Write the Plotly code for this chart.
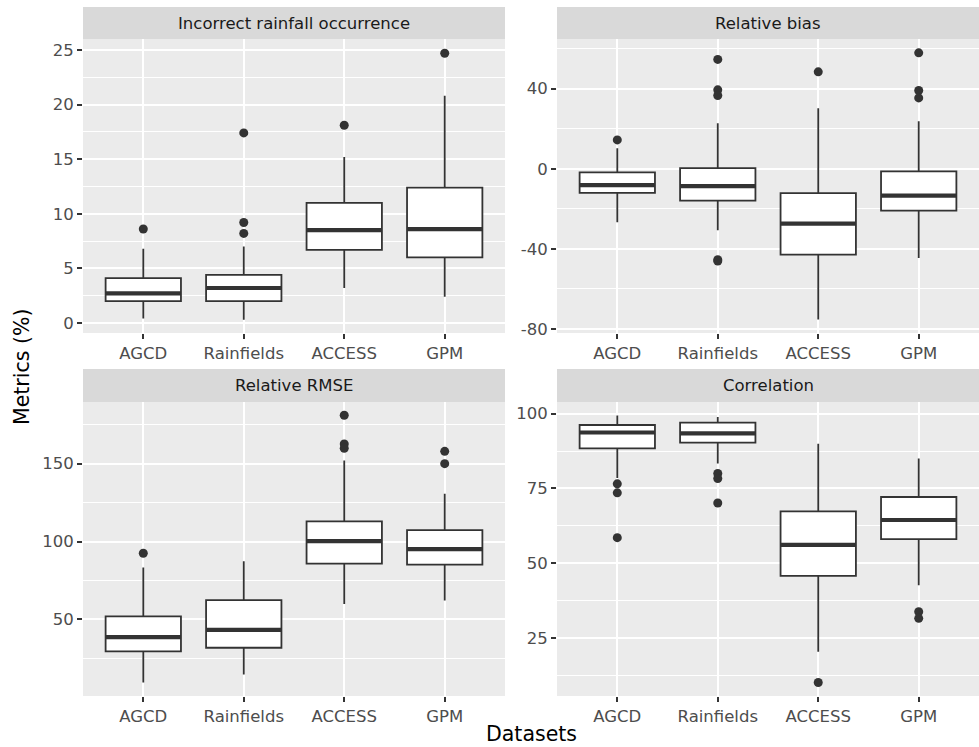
import plotly.graph_objects as go

datasets = ["AGCD", "Rainfields", "ACCESS", "GPM"]

# Incorrect rainfall occurrence
occ_low = [0.4, 0.3, 3.2, 2.4]
occ_q1 = [2.0, 2.0, 6.7, 6.0]
occ_med = [2.7, 3.2, 8.5, 8.6]
occ_q3 = [4.1, 4.4, 11.0, 12.4]
occ_high = [6.8, 7.0, 15.2, 20.8]
occ_out_ds = ["AGCD", "Rainfields", "Rainfields", "Rainfields", "ACCESS", "GPM"]
occ_out_val = [8.6, 17.4, 9.2, 8.2, 18.1, 24.7]

# Relative bias
bias_low = [-26.7, -30.7, -75.3, -44.6]
bias_q1 = [-12.0, -15.9, -42.9, -20.9]
bias_med = [-8.2, -8.7, -27.4, -13.4]
bias_q3 = [-1.8, 0.3, -12.2, -1.3]
bias_high = [10.2, 22.7, 30.2, 23.7]
bias_out_ds = ["AGCD", "Rainfields", "Rainfields", "Rainfields", "Rainfields", "Rainfields",
               "ACCESS", "GPM", "GPM", "GPM"]
bias_out_val = [14.4, 54.6, 39.4, 36.6, -45.4, -46.1, 48.4, 57.9, 39.1, 35.4]

# Relative RMSE
rmse_low = [9.4, 14.6, 59.9, 62.2]
rmse_q1 = [29.4, 31.8, 85.8, 85.2]
rmse_med = [38.6, 43.3, 100.2, 95.1]
rmse_q3 = [51.9, 62.4, 112.9, 107.3]
rmse_high = [83.3, 87.3, 152.1, 130.7]
rmse_out_ds = ["AGCD", "ACCESS", "ACCESS", "ACCESS", "GPM", "GPM"]
rmse_out_val = [92.5, 181.1, 162.7, 159.9, 157.9, 150.0]

# Correlation
corr_low = [78.5, 83.3, 20.3, 42.6]
corr_q1 = [88.4, 90.3, 45.7, 58.0]
corr_med = [93.7, 93.4, 56.1, 64.4]
corr_q3 = [96.2, 97.0, 67.3, 72.1]
corr_high = [99.4, 98.9, 89.9, 85.0]
corr_out_ds = ["AGCD", "AGCD", "AGCD", "Rainfields", "Rainfields", "Rainfields", "ACCESS", "GPM", "GPM"]
corr_out_val = [76.5, 73.5, 58.5, 80.0, 78.3, 70.1, 10.0, 33.7, 31.5]

panel_titles = ["Incorrect rainfall occurrence", "Relative bias", "Relative RMSE", "Correlation"]
major_ticks = [[0, 5, 10, 15, 20, 25], [-80, -40, 0, 40], [50, 100, 150], [25, 50, 75, 100]]
minor_ticks = [[2.5, 7.5, 12.5, 17.5, 22.5], [-60, -20, 20, 60], [25, 75, 125, 175], [12.5, 37.5, 62.5, 87.5]]
y_ranges = [[-0.92, 26.0], [-82.0, 64.8], [0.8, 189.6], [5.5, 103.9]]

panels = [
    (occ_low, occ_q1, occ_med, occ_q3, occ_high, occ_out_ds, occ_out_val),
    (bias_low, bias_q1, bias_med, bias_q3, bias_high, bias_out_ds, bias_out_val),
    (rmse_low, rmse_q1, rmse_med, rmse_q3, rmse_high, rmse_out_ds, rmse_out_val),
    (corr_low, corr_q1, corr_med, corr_q3, corr_high, corr_out_ds, corr_out_val),
]

W, H = 979, 747
# panel pixel boxes (x0, x1, y0_top, y1_bottom) and strips
px_x = [(83, 505), (557, 979), (83, 505), (557, 979)]
px_y = [(39, 333), (39, 333), (402, 696), (402, 696)]
strip_y = [(7, 39), (7, 39), (369, 402), (369, 402)]

DARK = "#333333"
BOXW = 0.75
fig = go.Figure()

layout = dict(
    width=W, height=H, margin=dict(l=0, r=0, t=0, b=0),
    paper_bgcolor="white", plot_bgcolor="#ebebeb", showlegend=False,
    font=dict(family="DejaVu Sans", size=16.5, color="#4d4d4d"),
)
shapes = []
annotations = []

for i, (low, q1, med, q3, high, out_ds, out_val) in enumerate(panels):
    k = "" if i == 0 else str(i + 1)
    xa, ya = "x" + k, "y" + k
    pos = [datasets.index(d) + 1 for d in datasets]
    fig.add_trace(go.Box(
        x=pos, q1=q1, median=med, q3=q3, lowerfence=low, upperfence=high,
        width=BOXW, fillcolor="white", line=dict(color=DARK, width=1.8),
        whiskerwidth=0, boxpoints=False, xaxis=xa, yaxis=ya, hoverinfo="skip",
    ))
    mx, my = [], []
    for p, m in zip(pos, med):
        mx += [p - BOXW / 2, p + BOXW / 2, None]
        my += [m, m, None]
    fig.add_trace(go.Scatter(x=mx, y=my, mode="lines", line=dict(color=DARK, width=4.2),
                             xaxis=xa, yaxis=ya, hoverinfo="skip"))
    ox = [datasets.index(d) + 1 for d in out_ds]
    fig.add_trace(go.Scatter(x=ox, y=out_val, mode="markers",
                             marker=dict(color=DARK, size=9, line=dict(width=0)),
                             xaxis=xa, yaxis=ya, hoverinfo="skip"))

    x0, x1 = px_x[i]
    y0, y1 = px_y[i]
    layout["xaxis" + k] = dict(
        domain=[x0 / W, x1 / W], anchor=ya, range=[0.4, 4.6],
        tickvals=[1, 2, 3, 4], ticktext=datasets,
        showgrid=True, gridcolor="white", gridwidth=2,
        ticks="outside", ticklen=5, tickwidth=1.5, tickcolor=DARK,
        zeroline=False, showline=False, automargin=False,
        tickfont=dict(size=16.5, color="#4d4d4d"),
    )
    layout["yaxis" + k] = dict(
        domain=[1 - y1 / H, 1 - y0 / H], anchor=xa, range=y_ranges[i],
        tickvals=major_ticks[i], ticktext=[str(v) for v in major_ticks[i]],
        showgrid=True, gridcolor="white", gridwidth=2,
        minor=dict(tickvals=minor_ticks[i], showgrid=True, gridcolor="white", gridwidth=1, ticks=""),
        ticks="outside", ticklen=5, tickwidth=1.5, tickcolor=DARK,
        zeroline=False, showline=False, automargin=False,
        tickfont=dict(size=16.5, color="#4d4d4d"),
    )
    sy0, sy1 = strip_y[i]
    shapes.append(dict(type="rect", xref="paper", yref="paper",
                       x0=x0 / W, x1=x1 / W, y0=1 - sy1 / H, y1=1 - sy0 / H,
                       fillcolor="#d9d9d9", line=dict(width=0), layer="below"))
    annotations.append(dict(text=panel_titles[i], xref="paper", yref="paper",
                            x=(x0 + x1) / 2 / W, y=1 - (sy0 + sy1) / 2 / H,
                            xanchor="center", yanchor="middle", showarrow=False,
                            font=dict(size=16.5, color="#1a1a1a")))

annotations.append(dict(text="Datasets", xref="paper", yref="paper",
                        x=531 / W, y=1 - 734 / H, xanchor="center", yanchor="middle",
                        showarrow=False, font=dict(size=20.5, color="black")))
annotations.append(dict(text="Metrics (%)", xref="paper", yref="paper",
                        x=22 / W, y=1 - 367 / H, xanchor="center", yanchor="middle",
                        textangle=-90, showarrow=False, font=dict(size=20.5, color="black")))

layout["shapes"] = shapes
layout["annotations"] = annotations
fig.update_layout(**layout)
fig.write_html("out.html")
